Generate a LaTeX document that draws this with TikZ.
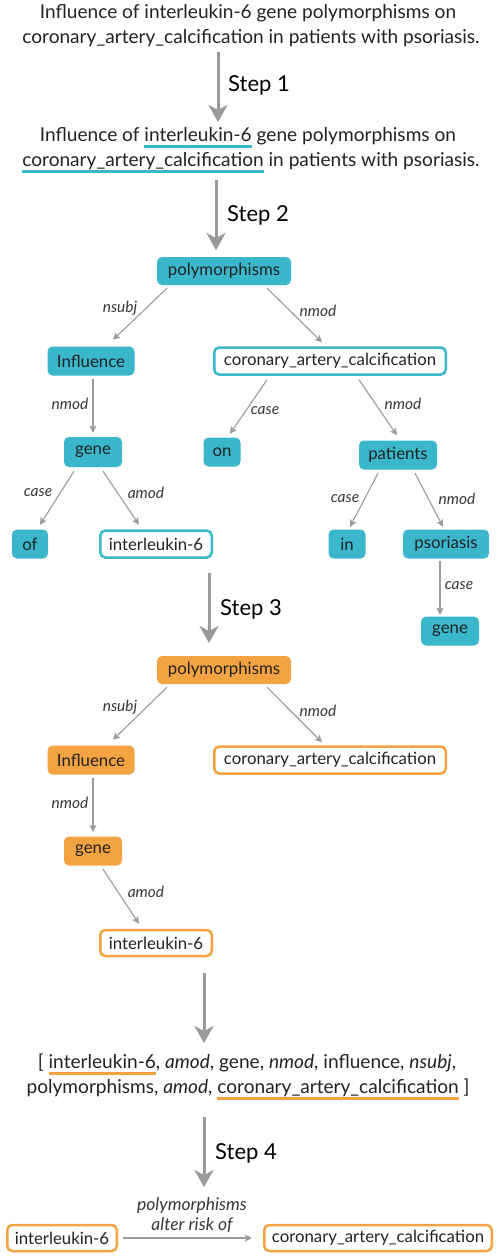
\documentclass[tikz,border=0pt]{standalone}
\usepackage{fontspec}
\setmainfont{Lato}
\usetikzlibrary{arrows.meta,calc}
\definecolor{cy}{HTML}{3BB7CB}
\definecolor{org}{HTML}{F3A342}
\definecolor{gr}{HTML}{9A9A9C}
\definecolor{tx}{HTML}{222222}
\newcommand{\ulc}[2]{\mbox{\setbox0=\hbox{#2}\rlap{\color{#1}\rule[-6.5pt]{\wd0}{2.6pt}}\box0}}
\begin{document}
\begin{tikzpicture}[x=1pt,y=-1pt,
  box/.style={rounded corners=5pt, minimum height=29pt, inner sep=0pt, font=\fontsize{16.8}{18}\selectfont, text=tx},
  cbox/.style={box, fill=cy},
  cwbox/.style={box, fill=white, draw=cy, line width=2.5pt, minimum height=27pt},
  obox/.style={box, fill=org},
  owbox/.style={box, fill=white, draw=org, line width=2.5pt, minimum height=27pt},
  lab/.style={font=\fontsize{15.5}{17}\selectfont\itshape, text=tx!90!white, inner sep=0pt},
  edge/.style={draw=gr, line width=1.1pt, -{Stealth[length=7pt,width=7pt,inset=1.5pt]}},
  big/.style={draw=gr, line width=3pt, -{Stealth[length=17pt,width=19pt,inset=5pt]}},
  steplab/.style={font=\fontsize{22}{26}\selectfont, anchor=base west, inner sep=0pt, text=black},
  txt/.style={font=\fontsize{19.1}{24}\selectfont, anchor=base, inner sep=0pt, text=tx}
]
\useasboundingbox (0,0) rectangle (500,1256);

% ---------- top sentence ----------
\node[txt] (t1a) at (248,18.5) {Influence of interleukin-6 gene polymorphisms on};
\node[txt] (t1b) at (251,43) {coronary\_artery\_calcification in patients with psoriasis.};

\coordinate (a1s) at (218,52);
\coordinate (a1e) at (218,122);
\draw[big] (a1s) -- (a1e);
\node[steplab] (s1) at (228,91) {Step 1};

% ---------- underlined sentence ----------
\node[txt] (t2a) at (248,141.5) {Influence of \ulc{cy}{interleukin-6} gene polymorphisms on};
\node[txt] (t2b) at (251,166) {\ulc{cy}{coronary\_artery\_calcification} in patients with psoriasis.};

\coordinate (a2s) at (216,180);
\coordinate (a2e) at (216,250);
\draw[big] (a2s) -- (a2e);
\node[steplab] (s2) at (227,221.5) {Step 2};

% ---------- Step 2 tree ----------
\node[cbox, minimum width=134pt, minimum height=28pt] (p2) at (224,271) {polymorphisms};
\node[cbox, minimum width=87pt] (inf2) at (91,361) {Influence};
\node[cwbox, minimum width=231.5pt] (cac2) at (330,361) {coronary\_artery\_calcification};
\node[cbox, minimum width=58pt, minimum height=30pt] (gene2) at (93,452) {gene};
\node[cbox, minimum width=37pt] (on2) at (222,452) {on};
\node[cbox, minimum width=78pt] (pat2) at (398,455) {patients};
\node[cbox, minimum width=36pt] (of2) at (30,544) {of};
\node[cwbox, minimum width=111.5pt] (il2) at (156,544) {interleukin-6};
\node[cbox, minimum width=37pt] (in2) at (347,544) {in};
\node[cbox, minimum width=86pt] (pso2) at (446,544) {psoriasis};
\node[cbox, minimum width=58pt] (geneb) at (450,631) {gene};

\draw[edge] ($(p2.south)+(-57,3)$) -- ($(inf2.north)+(22,-6.5)$);
\draw[edge] ($(p2.south)+(43,3)$) -- ($(cac2.north)+(-8,-4)$);
\draw[edge] ($(inf2.south)+(2,3.5)$) -- ($(gene2.north)+(0,-4)$);
\draw[edge] ($(cac2.south)+(-63,4)$) -- ($(on2.north)+(8,-3.5)$);
\draw[edge] ($(cac2.south)+(29,4)$) -- ($(pat2.north)+(-1,-5)$);
\draw[edge] ($(gene2.south)+(-19,4)$) -- ($(of2.north)+(10,-4.5)$);
\draw[edge] ($(gene2.south)+(10,4)$) -- ($(il2.north)+(-17,-4.5)$);
\draw[edge] ($(pat2.south)+(-20,3.5)$) -- ($(in2.north)+(3,-2.5)$);
\draw[edge] ($(pat2.south)+(17,3.5)$) -- ($(pso2.north)+(-3,-2.5)$);
\draw[edge] ($(pso2.south)+(-6,2.5)$) -- ($(geneb.north)+(-10,-1.5)$);

\node[lab] (l1) at (120,308) {nsubj};
\node[lab] (l2) at (318,311) {nmod};
\node[lab] (l3) at (70,404) {nmod};
\node[lab] (l4) at (265,411) {case};
\node[lab] (l5) at (403,404) {nmod};
\node[lab] (l6) at (38,493) {case};
\node[lab] (l7) at (146,493) {amod};
\node[lab] (l8) at (345,499) {case};
\node[lab] (l9) at (457,499) {nmod};
\node[lab] (l10) at (459,586) {case};

\coordinate (a3s) at (209,573);
\coordinate (a3e) at (209,643);
\draw[big] (a3s) -- (a3e);
\node[steplab] (s3) at (220,615) {Step 3};

% ---------- Step 3 tree ----------
\node[obox, minimum width=134pt, minimum height=28pt] (p3) at (224,670) {polymorphisms};
\node[obox, minimum width=87pt] (inf3) at (91,760) {Influence};
\node[owbox, minimum width=231.5pt] (cac3) at (330,760) {coronary\_artery\_calcification};
\node[obox, minimum width=58pt] (gene3) at (93,851) {gene};
\node[owbox, minimum width=111.5pt, minimum height=26pt] (il3) at (156,943) {interleukin-6};

\draw[edge] ($(p3.south)+(-57,3)$) -- ($(inf3.north)+(22,-5.5)$);
\draw[edge] ($(p3.south)+(43,3)$) -- ($(cac3.north)+(-8,-3)$);
\draw[edge] ($(inf3.south)+(2,3.5)$) -- ($(gene3.north)+(0,-4.5)$);
\draw[edge] ($(gene3.south)+(10,3.5)$) -- ($(il3.north)+(-17,-5)$);

\node[lab] (m1) at (120,707) {nsubj};
\node[lab] (m2) at (318,711) {nmod};
\node[lab] (m3) at (70,803) {nmod};
\node[lab] (m4) at (146,892) {amod};

\coordinate (a4s) at (204,973);
\coordinate (a4e) at (204,1043);
\draw[big] (a4s) -- (a4e);

% ---------- list ----------
\node[txt] (la) at (247,1068) {[ \ulc{org}{interleukin-6}, \textit{amod}, gene, \textit{nmod}, influence, \textit{nsubj},};
\node[txt] (lb) at (248,1093) {polymorphisms, \textit{amod}, \ulc{org}{coronary\_artery\_calcification} ]};

\coordinate (a5s) at (204,1117);
\coordinate (a5e) at (204,1187);
\draw[big] (a5s) -- (a5e);
\node[steplab] (s4) at (215,1159) {Step 4};

% ---------- final relation ----------
\node[owbox, minimum width=109.5pt, minimum height=26pt] (ilf) at (62,1238) {interleukin-6};
\node[owbox, minimum width=227.5pt, minimum height=26pt] (cacf) at (378,1238) {coronary\_artery\_calcification};
\draw[edge] ($(ilf.east)+(5,0)$) -- ($(cacf.west)+(-11,0)$);
\node[lab, font=\fontsize{17.5}{20}\selectfont\itshape, align=center] (rel) at (192,1215) {polymorphisms\\alter risk of};
\end{tikzpicture}
\end{document}
